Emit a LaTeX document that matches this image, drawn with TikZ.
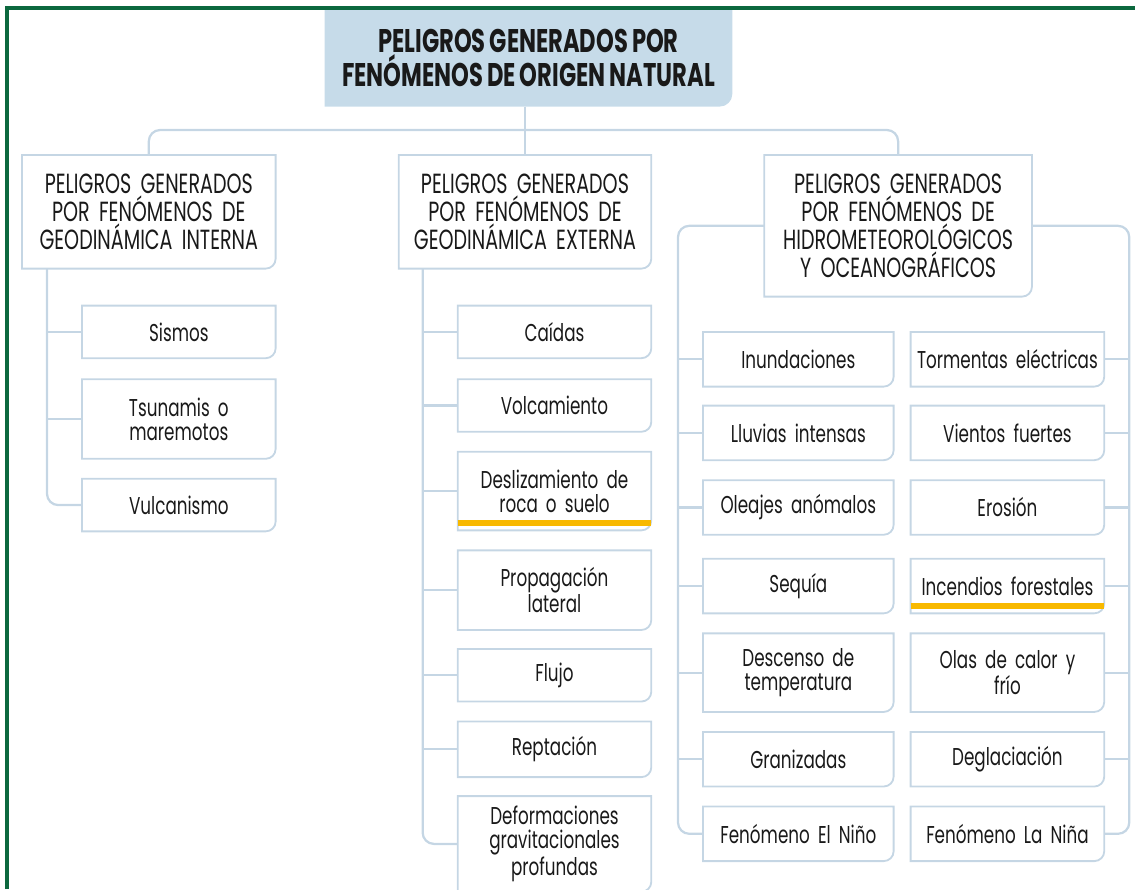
\documentclass[tikz,border=0pt]{standalone}
\usepackage{fontspec}
\setmainfont{Poppins}[FakeStretch=0.69, WordSpace=0.85]
\usetikzlibrary{positioning, backgrounds}
\definecolor{lineblue}{RGB}{197,214,228}
\definecolor{titlefill}{RGB}{198,219,233}
\definecolor{framegreen}{RGB}{12,104,62}
\definecolor{hlyellow}{RGB}{248,185,0}
\definecolor{textdark}{RGB}{25,25,25}

\begin{document}
\begin{tikzpicture}[x=0.025cm, y=-0.025cm,
    headbox/.style={inner sep=0pt, minimum width=10.175cm, minimum height=2.4cm, align=center, font=\fontsize{23.3}{24}\selectfont\bfseries},
    groupbox/.style={inner sep=0pt, minimum height=2.825cm, align=center, font=\fontsize{19.7}{20}\selectfont},
    leafbox/.style={inner sep=0pt, text width=4.825cm, minimum height=1.3cm, align=center, font=\fontsize{17.3}{17}\selectfont},
    hmleft/.style={leafbox, text width=4.75cm, minimum height=1.35cm},
    hmright/.style={leafbox, minimum height=1.35cm},
    conn/.style={draw=lineblue, line width=1.6pt, rounded corners=8pt},
    boxline/.style={draw=lineblue, line width=1.3pt},
    underline/.style={draw=hlyellow, line width=4.2pt},
    frame/.style={draw=framegreen, line width=2.2pt},
    text=textdark
]
\useasboundingbox (0,0) rectangle (1135,889);
\draw[frame] (7,889) -- (7,8) -- (1135,8);

% Title
\node[headbox, anchor=north] (top) at (528.5,10) {PELIGROS GENERADOS POR\\FENÓMENOS DE ORIGEN NATURAL};

% Groups
\node[groupbox, text width=6.325cm, anchor=north west] (gi) at (22,155) {PELIGROS GENERADOS\\POR FENÓMENOS DE\\GEODINÁMICA INTERNA};
\node[groupbox, text width=6.3cm, below right=0cm and 3.075cm of gi.north east] (ge) {PELIGROS GENERADOS\\POR FENÓMENOS DE\\GEODINÁMICA EXTERNA};
\node[groupbox, text width=6.675cm, minimum height=3.525cm, below right=0cm and 2.825cm of ge.north east] (hm) {PELIGROS GENERADOS\\POR FENÓMENOS DE\\HIDROMETEOROLÓGICOS\\Y OCEANOGRÁFICOS};

% Geodinamica interna
\node[leafbox, below left=0.925cm and 0cm of gi.south east] (sismos) {Sismos};
\node[leafbox, minimum height=1.975cm, below=0.525cm of sismos] (tsunami) {Tsunamis o\\maremotos};
\node[leafbox, below=0.5cm of tsunami] (vulcan) {Vulcanismo};

% Geodinamica externa
\node[leafbox, below left=0.925cm and 0cm of ge.south east] (caidas) {Caídas};
\node[leafbox, below=0.525cm of caidas] (volca) {Volcamiento};
\node[leafbox, minimum height=1.95cm, below=0.5cm of volca] (desliz) {Deslizamiento de\\roca o suelo};
\node[leafbox, minimum height=1.975cm, below=0.5cm of desliz] (propag) {Propagación\\lateral};
\node[leafbox, below=0.475cm of propag] (flujo) {Flujo};
\node[leafbox, minimum height=1.375cm, below=0.5cm of flujo] (reptac) {Reptación};
\node[leafbox, minimum height=2.375cm, below=0.475cm of reptac] (deform) {Deformaciones\\gravitacionales\\profundas};

% Hidrometeorologicos
\node[hmleft, anchor=north west] (inund) at (703,332) {Inundaciones};
\node[hmright, right=0.425cm of inund] (torment) {Tormentas eléctricas};
\node[hmleft, below=0.475cm of inund] (lluvias) {Lluvias intensas};
\node[hmright, right=0.425cm of lluvias] (vientos) {Vientos fuertes};
\node[hmleft, below=0.5cm of lluvias] (oleajes) {Oleajes anómalos};
\node[hmright, right=0.425cm of oleajes] (erosion) {Erosión};
\node[hmleft, below=0.6cm of oleajes] (sequia) {Sequía};
\node[hmright, right=0.425cm of sequia] (incend) {Incendios forestales};
\node[hmleft, minimum height=1.95cm, below=0.5cm of sequia] (descenso) {Descenso de\\temperatura};
\node[hmright, minimum height=1.95cm, right=0.425cm of descenso] (olas) {Olas de calor y\\frío};
\node[hmleft, below=0.5cm of descenso] (graniz) {Granizadas};
\node[hmright, right=0.425cm of graniz] (deglac) {Deglaciación};
\node[hmleft, below=0.5cm of graniz] (nino) {Fenómeno El Niño};
\node[hmright, right=0.425cm of nino] (nina) {Fenómeno La Niña};

% Box outlines (only the lower right corner is rounded)
\foreach \n in {gi, ge, hm, sismos, tsunami, vulcan, caidas, volca, desliz, propag, flujo, reptac, deform,
    inund, torment, lluvias, vientos, oleajes, erosion, sequia, incend, descenso, olas, graniz, deglac, nino, nina}
  \draw[boxline] (\n.south west) -- (\n.north west) -- (\n.north east) -- ([yshift=7pt]\n.south east)
    to[out=-90,in=0] ([xshift=-7pt]\n.south east) -- cycle;
\begin{scope}[on background layer]
\fill[titlefill] (top.south west) -- (top.north west) -- (top.north east) -- ([yshift=9pt]top.south east)
  to[out=-90,in=0] ([xshift=-9pt]top.south east) -- cycle;
\end{scope}

% Connectors
\coordinate (bus) at ([yshift=0.625cm]ge.north);
\draw[conn] (top.south -| bus) -- (ge.north);
\draw[conn] (gi.north) |- (bus) -| (hm.north);

\coordinate (giS) at ([xshift=0.625cm]gi.south west);
\draw[conn] (giS) |- (vulcan.west);
\foreach \n in {sismos, tsunami}
  \draw[conn] (\n.west) -- (\n.west -| giS);

\coordinate (geS) at ([xshift=0.6cm]ge.south west);
\draw[conn] (geS) |- (deform.west);
\foreach \n in {caidas, volca, desliz, propag, flujo, reptac}
  \draw[conn] (\n.west) -- (\n.west -| geS);

\coordinate (hmL) at ([xshift=-0.625cm]nino.west);
\coordinate (hmR) at ([xshift=0.625cm]nina.east);
\draw[conn] (hm.west) -| (hmL) -- (nino.west);
\draw[conn] (hm.east) -| (hmR) -- (nina.east);
\foreach \n in {inund, lluvias, oleajes, sequia, descenso, graniz}
  \draw[conn] (\n.west) -- (\n.west -| hmL);
\foreach \n in {torment, vientos, erosion, incend, olas, deglac}
  \draw[conn] (\n.east) -- (\n.east -| hmR);

% Highlights
\draw[underline] ([yshift=5pt]desliz.south west) -- ([yshift=5pt]desliz.south east);
\draw[underline] ([yshift=5pt]incend.south west) -- ([yshift=5pt]incend.south east);
\end{tikzpicture}
\end{document}
